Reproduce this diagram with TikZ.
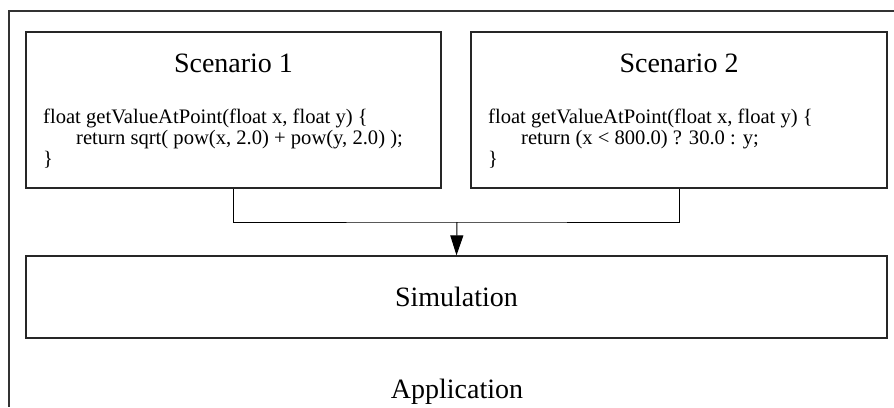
\documentclass[tikz,border=0pt]{standalone}
\usepackage{fontspec}
\setmainfont{Liberation Serif}
\usetikzlibrary{arrows.meta}
\begin{document}
\begin{tikzpicture}[x=1pt,y=-1pt,
  box/.style={draw=black!85,line width=1.3pt,rectangle,inner sep=0pt},
  title/.style={anchor=base,inner sep=0pt,font=\fontsize{28}{34}\selectfont},
  code/.style={anchor=base west,inner sep=0pt,font=\fontsize{20.6}{25}\selectfont},
  wire/.style={draw=black,line width=1pt}]
\useasboundingbox (0,0) rectangle (894,407);
% outer frame (cut off at right and bottom)
\draw[line width=1.2pt,black!80] (894,11) -- (9,11) -- (9,407);
% scenario boxes
\node[box,minimum width=415pt,minimum height=156pt] (s1) at (233.5,110) {};
\node[box,minimum width=416pt,minimum height=156pt] (s2) at (679,110) {};
\node[title] (t1) at (233.5,72) {Scenario 1};
\node[title] (t2) at (679,72) {Scenario 2};
\node[code] (c1a) at (43,123) {float getValueAtPoint(float x, float y) \{};
\node[code] (c1b) at (76,144) {return sqrt( pow(x, 2.0) + pow(y, 2.0) );};
\node[code] (c1c) at (43,165) {\}};
\node[code] (c2a) at (488,123) {float getValueAtPoint(float x, float y) \{};
\node[code] (c2b) at (521,144) {return (x < 800.0) ? 30.0 : y;};
\node[code] (c2c) at (488,165) {\}};
% simulation
\node[box,minimum width=861pt,minimum height=82pt,font=\fontsize{28}{34}\selectfont] (sim) at (456.5,297) {Simulation};
\node[title] (app) at (457,398) {Application};
% connectors
\coordinate (j) at (457,222);
\draw[wire] (s1.south) |- (j) -| (s2.south);
\draw[wire,-{Triangle[length=20pt,width=13pt]}] (j) -- (sim.north);
\end{tikzpicture}
\end{document}
